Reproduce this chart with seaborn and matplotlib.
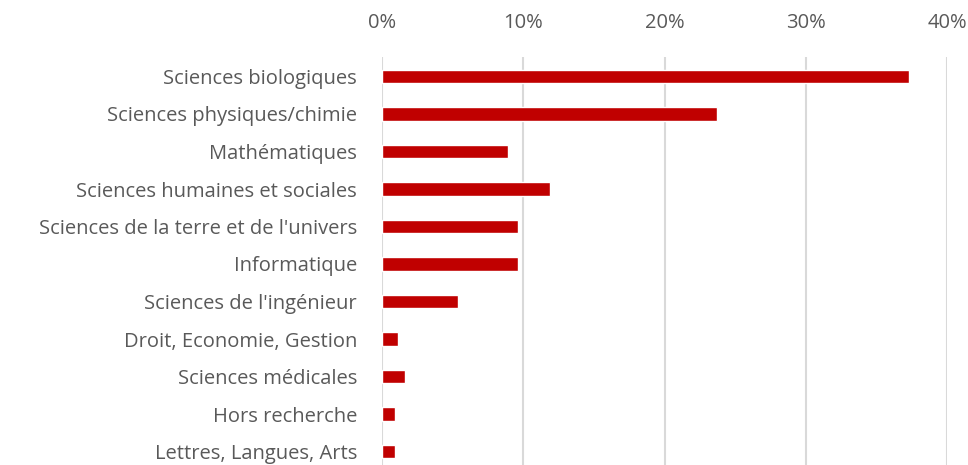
import matplotlib
matplotlib.use("Agg")
import matplotlib.pyplot as plt
import seaborn as sns
import pandas as pd
from matplotlib.ticker import PercentFormatter

categories = [
    "Sciences biologiques",
    "Sciences physiques/chimie",
    "Mathématiques",
    "Sciences humaines et sociales",
    "Sciences de la terre et de l'univers",
    "Informatique",
    "Sciences de l'ingénieur",
    "Droit, Economie, Gestion",
    "Sciences médicales",
    "Hors recherche",
    "Lettres, Langues, Arts",
]
values = [0.373, 0.237, 0.089, 0.119, 0.096, 0.096, 0.054, 0.011, 0.016, 0.009, 0.009]
xticks = [0, 0.1, 0.2, 0.3, 0.4]

df = pd.DataFrame({"cat": categories, "val": values})

sns.set_theme(style="white")
plt.rcParams["font.family"] = ["Open Sans", "DejaVu Sans"]

fig = plt.figure(figsize=(9.68, 4.65), dpi=100)
ax = fig.add_axes([382 / 968, 0, (947 - 382) / 968, (465 - 57) / 465])

sns.barplot(data=df, x="val", y="cat", orient="h", color="#C00000",
            width=0.35, saturation=1, ax=ax, zorder=3)

ax.set_xlim(0, 0.40)
ax.set_ylim(10.36, -0.52)
ax.set_xticks(xticks)
ax.xaxis.set_major_formatter(PercentFormatter(1.0, decimals=0))
ax.xaxis.tick_top()
ax.set_xlabel("")
ax.set_ylabel("")
for s in ax.spines.values():
    s.set_visible(False)
ax.grid(axis="x", color="#d9d9d9", linewidth=1.5, zorder=0)
ax.grid(axis="y", visible=False)
ax.tick_params(axis="x", length=0, pad=17, labelsize=14.5, labelcolor="#595959")
ax.tick_params(axis="y", length=0, pad=18, labelsize=14.5, labelcolor="#595959")

fig.savefig("out.png", dpi=100)
